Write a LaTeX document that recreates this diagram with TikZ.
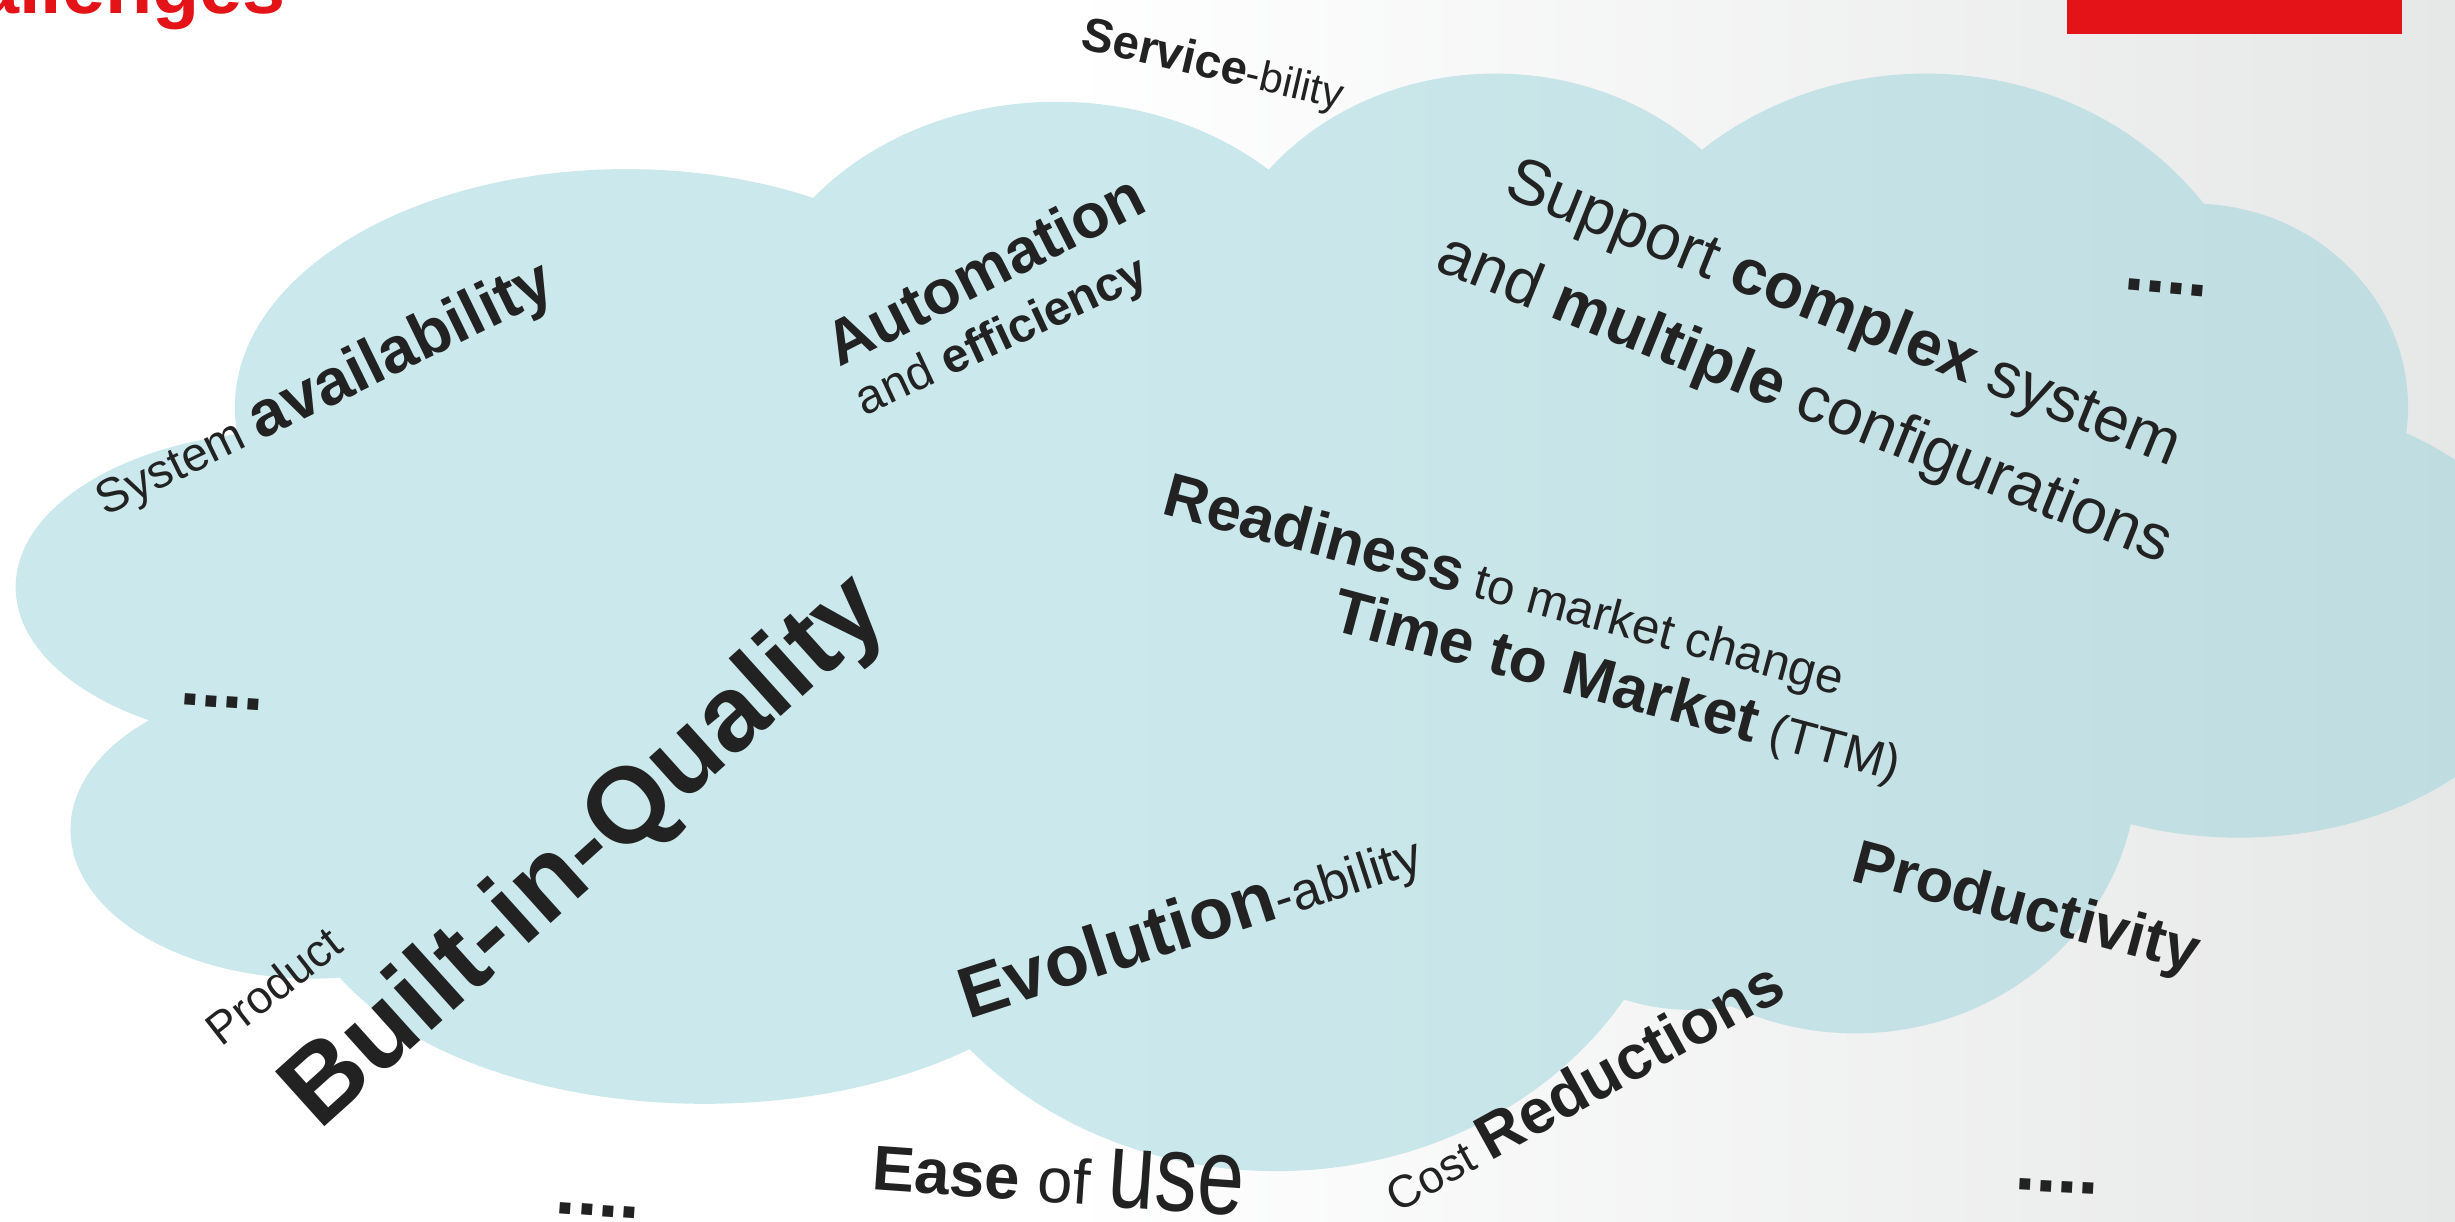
\documentclass[tikz,border=0pt]{standalone}
\usepackage{fontspec}
\setmainfont{Liberation Sans}
\usepackage{graphicx}
\usetikzlibrary{positioning}
\definecolor{inkgray}{RGB}{34,34,34}
\definecolor{titlered}{RGB}{228,19,23}
\definecolor{cloudblue}{RGB}{157,213,220}
\definecolor{bggray}{RGB}{230,231,231}
\newcommand{\wsize}[1]{\fontsize{#1pt}{#1pt}\selectfont}
\tikzset{
word/.style={
  inner sep=0pt,
  text=inkgray,
  anchor=base west,
  rotate=#1,
  }
}
\tikzset{
dotrow/.style={
  word=#1,
  font=\bfseries\wsize{21.6},
  }
}

\begin{document}
\begin{tikzpicture}[x=0.015657cm, y=-0.015657cm]
    \fill[white] (0,0) rectangle (1568,780);
    \shade[left color=white, right color=bggray] (680,0) rectangle (1568,780);
    \useasboundingbox (0,0) rectangle (1568,780);
    % cloud
    \fill[cloudblue, fill opacity=0.52]
      (400,260) ellipse [x radius=250, y radius=152]
      (675,230) ellipse [x radius=200, y radius=165]
      (955,210) ellipse [x radius=185, y radius=163]
      (1230,250) ellipse [x radius=220, y radius=203]
      (1400,260) ellipse [x radius=138, y radius=130]
      (1430,395) ellipse [x radius=200, y radius=140]
      (1185,490) ellipse [x radius=180, y radius=170]
      (1080,560) ellipse [x radius=110, y radius=85]
      (815,520) ellipse [x radius=260, y radius=228]
      (450,560) ellipse [x radius=260, y radius=145]
      (200,530) ellipse [x radius=155, y radius=95]
      (190,375) ellipse [x radius=180, y radius=100]
      (150,300) -- (400,200) -- (700,200) -- (1000,180) -- (1250,200) -- (1450,300)
      -- (1450,450) -- (1200,550) -- (900,600) -- (600,620) -- (300,600) -- (100,450) -- cycle;
    % title and bar
    \node[anchor=base east, inner sep=0pt, text=titlered, font=\bfseries\wsize{22}] (title) at (183,8.5) {Challenges};
    \fill[titlered] (1320,0) rectangle (1534,22);

    \node[word=-13, font=\wsize{12}] (serv) at (689,31) {{\bfseries\wsize{13.5}Service}-bility};
    \node[word=26, font=\wsize{13.6}] (sys_avail) at (67,330) {System {\bfseries\wsize{18.4}availability}};
    \node[word=27, font=\bfseries\wsize{17.8}] (autom) at (536,235) {Automation};
    \node[word=25, font=\wsize{13.7}] (effic) at (552,266) {and {\bfseries efficiency}};
    \node[word=-22, font=\wsize{18.2}] (supp_a) at (959,125) {Support {\bfseries complex} system};
    \node[word=-22, font=\wsize{18.2}] (supp_b) at (915,172) {and {\bfseries multiple} configurations};
    \node[word=-15, font=\wsize{14}] (ready) at (741,328) {{\bfseries\wsize{17.5}Readiness} to market change};
    \node[word=-15, font=\wsize{14}] (ttm) at (849,402) {{\bfseries\wsize{17.7}Time to Market} (TTM)};
    \node[word=-15, font=\bfseries\wsize{17.5}] (prod) at (1181,562) {Productivity};
    \node[word=29, font=\wsize{13}] (cost) at (892,775) {Cost {\bfseries\wsize{17.8}Reductions}};
    \node[word=18, font=\wsize{15}] (evol) at (618,651) {{\bfseries\wsize{20.5}Evolution}-ability};
    \node[word=42, font=\bfseries\wsize{30.5}] (built_q) at (204,723) {Built-in-Quality};
    \node[word=38, font=\wsize{13}] (prod_q) at (141,669) {Product};
    \node[word=-4, font=\wsize{18}] (ease) at (556,760) {{\bfseries Ease} of \scalebox{1}[1.3]{\wsize{24}use}};

    \node[dotrow=-5] (dots_tr) at (1356,185) {....};
    \node[dotrow=-4] (dots_l) at (114,450) {....};
    \node[dotrow=-4] (dots_b) at (354,775) {....};
    \node[dotrow=-3] (dots_br) at (1286,760) {....};
\end{tikzpicture}
\end{document}
